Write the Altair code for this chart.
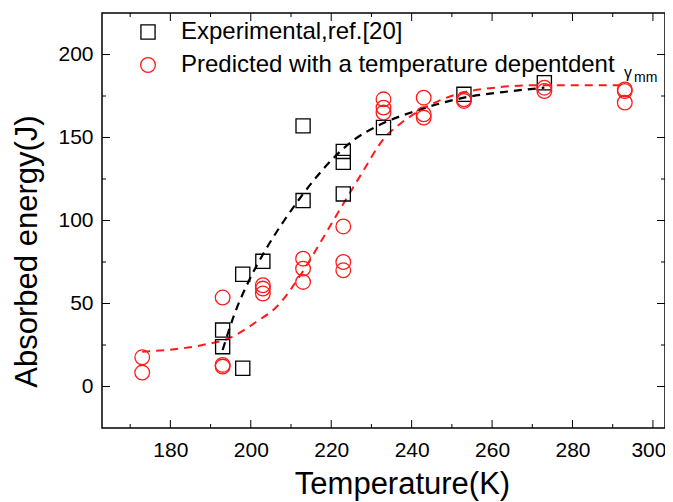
import altair as alt
import pandas as pd

# ---- data ----
exp_T = [193, 193, 198, 198, 203, 213, 213, 223, 223, 223, 233, 253, 273]
exp_E = [34, 24, 67.6, 11, 75.4, 157, 112, 141.6, 135, 116, 156, 176, 183]

pred_T = [173, 173, 193, 193, 193, 203, 203, 203, 213, 213, 213, 223, 223, 223,
          233, 233, 233, 243, 243, 243, 253, 253, 273, 273, 293, 293, 293]
pred_E = [17.6, 8.4, 53.6, 13, 12, 61, 59, 56, 77, 71, 63, 96.4, 75, 70,
          173, 168, 165, 174, 164, 162, 173, 172, 180, 178, 179, 178, 171]

exp_fit_T = [193, 196, 199.4, 203.6, 208.3, 212.4, 216.6, 220.7, 225.9, 231.5, 241, 253, 265, 273]
exp_fit_E = [22, 44, 63, 82, 100, 114, 127, 138, 149, 157, 166, 174, 178, 180]

pred_fit_T = [173, 188, 194.5, 202, 206, 212.6, 217.6, 222.5, 227.5, 233.3, 237.4,
              242.4, 246.5, 252.3, 260.6, 271.3, 293]
pred_fit_E = [21, 25, 29, 40, 47, 68, 88, 108, 128, 150, 158.7, 166.8, 171.8,
              176.8, 180, 181.5, 181.5]

x_major = [180, 200, 220, 240, 260, 280, 300]
x_minor = [170, 190, 210, 230, 250, 270, 290]
y_major = [0, 50, 100, 150, 200]
y_minor = [25, 75, 125, 175]

legend_labels = ["Experimental,ref.[20]", "Predicted with a temperature depentdent "]

# ---- chart ----
W, H = 563, 415
FONT = "Liberation Sans"
RED = "#ff1a1a"

xs = alt.Scale(domain=[163, 303], nice=False, zero=False)
ys = alt.Scale(domain=[-25, 225], nice=False, zero=False)

exp_df = pd.DataFrame({"T": exp_T, "E": exp_E})
pred_df = pd.DataFrame({"T": pred_T, "E": pred_E})
expfit_df = pd.DataFrame({"T": exp_fit_T, "E": exp_fit_E})
predfit_df = pd.DataFrame({"T": pred_fit_T, "E": pred_fit_E})

xaxis = alt.Axis(values=x_major, title="Temperature(K)", domain=False, ticks=False,
                 grid=False, labelFont=FONT, labelFontSize=21, labelPadding=11,
                 labelColor="black", labelFlush=14, labelFlushOffset=13,
                 titleFont=FONT, titleFontSize=31,
                 titleFontWeight="normal", titleColor="black", titlePadding=9,
                 titleX=300)
yaxis = alt.Axis(values=y_major, title="Absorbed energy(J)", domain=False, ticks=False,
                 grid=False, labelFont=FONT, labelFontSize=21, labelPadding=9,
                 labelColor="black", titleFont=FONT, titleFontSize=31,
                 titleFontWeight="normal", titleColor="black", titlePadding=14,
                 titleY=238)

X = alt.X("T:Q", scale=xs, axis=xaxis)
Y = alt.Y("E:Q", scale=ys, axis=yaxis)

pred_line = alt.Chart(predfit_df).mark_line(
    color=RED, strokeWidth=2, strokeDash=[8, 6], interpolate="monotone"
).encode(x=X, y=Y)

exp_line = alt.Chart(expfit_df).mark_line(
    color="black", strokeWidth=2.2, strokeDash=[8, 6], interpolate="monotone"
).encode(x=X, y=Y)

exp_pts = alt.Chart(exp_df).mark_point(
    shape="square", filled=False, color="black", strokeWidth=1.3, size=200, opacity=1
).encode(x=X, y=Y)

pred_pts = alt.Chart(pred_df).mark_point(
    shape="circle", filled=False, color=RED, strokeWidth=1.3, size=215, opacity=1
).encode(x=X, y=Y)

def xticks(vals, length, top):
    df = pd.DataFrame({"T": vals})
    y0, y1 = (0, length) if top else (H, H - length)
    return alt.Chart(df).mark_rule(color="black", strokeWidth=1).encode(
        x=X, y=alt.value(y0), y2=alt.value(y1))

def yticks(vals, length, right):
    df = pd.DataFrame({"E": vals})
    x0, x1 = (W, W - length) if right else (0, length)
    return alt.Chart(df).mark_rule(color="black", strokeWidth=1).encode(
        y=Y, x=alt.value(x0), x2=alt.value(x1))

ticks = [xticks(x_major, 8, False), xticks(x_minor, 4, False),
         xticks(x_major, 8, True), xticks(x_minor, 4, True),
         yticks(y_major, 8, False), yticks(y_minor, 4, False),
         yticks(y_major, 8, True), yticks(y_minor, 4, True)]

one = pd.DataFrame({"k": [0]})
leg_sq = alt.Chart(one).mark_point(shape="square", filled=False, color="black",
                                   strokeWidth=1.3, size=200, opacity=1).encode(
    x=alt.value(46), y=alt.value(19))
leg_ci = alt.Chart(one).mark_point(shape="circle", filled=False, color=RED,
                                   strokeWidth=1.3, size=215, opacity=1).encode(
    x=alt.value(46), y=alt.value(52))
leg_t1 = alt.Chart(one).mark_text(align="left", baseline="middle", font=FONT,
                                  fontSize=24, color="black").encode(
    x=alt.value(79), y=alt.value(19), text=alt.value(legend_labels[0]))
leg_t2 = alt.Chart(one).mark_text(align="left", baseline="middle", font=FONT,
                                  fontSize=24, color="black").encode(
    x=alt.value(79), y=alt.value(52), text=alt.value(legend_labels[1]))
leg_g = alt.Chart(one).mark_text(align="left", baseline="alphabetic", font=FONT,
                                 fontSize=16, color="black").encode(
    x=alt.value(522), y=alt.value(65), text=alt.value("γ"))
leg_mm = alt.Chart(one).mark_text(align="left", baseline="alphabetic", font=FONT,
                                  fontSize=14, color="black").encode(
    x=alt.value(532), y=alt.value(69), text=alt.value("mm"))

chart = alt.layer(
    pred_line, exp_line, *ticks, exp_pts, pred_pts,
    leg_sq, leg_ci, leg_t1, leg_t2, leg_g, leg_mm
).properties(
    width=W, height=H,
    autosize=alt.AutoSizeParams(type="none"),
    padding={"left": 94, "top": 5, "right": 0, "bottom": 73},
    background="white",
).configure_view(stroke="black", strokeWidth=1.5)

chart.save("out.html", embed_options={"renderer": "svg", "actions": False})
